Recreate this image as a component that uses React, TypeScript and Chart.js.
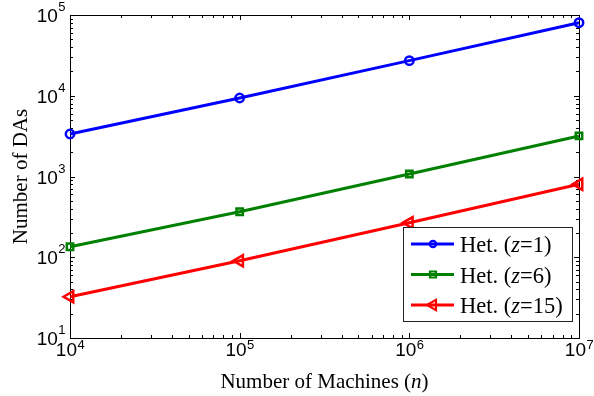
import React, { useEffect, useRef } from "react";
import { Chart, registerables } from "chart.js";

Chart.register(...registerables);

// Number of machines (x) and number of DAs per heterogeneity level (y)
const machines = [1e4, 1e5, 1e6, 1e7];
const dasZ1 = [3360, 9380, 27200, 80300];
const dasZ6 = [135, 366, 1075, 3180];
const dasZ15 = [32.4, 90.6, 268, 800];

const seriesLabels = ["Het. (z=1)", "Het. (z=6)", "Het. (z=15)"];
const seriesColors = ["#0000ff", "#008000", "#ff0000"];

// Decade exponents shown as 10^k tick labels
const xTickExponents = [4, 5, 6, 7];
const yTickExponents = [1, 2, 3, 4, 5];

const xTitleParts = ["Number of Machines (", "n", ")"];
const yTitle = "Number of DAs";

const SANS = "'Liberation Sans', Arial, sans-serif";
const SERIF = "'Liberation Serif', 'Times New Roman', serif";

function drawMarker(ctx: CanvasRenderingContext2D, style: string, x: number, y: number, r: number) {
  ctx.beginPath();
  if (style === "circle") {
    ctx.arc(x, y, r, 0, Math.PI * 2);
  } else if (style === "rect") {
    ctx.rect(x - r, y - r, 2 * r, 2 * r);
  } else {
    ctx.moveTo(x - r, y);
    ctx.lineTo(x + r * 0.5, y - r * 0.866);
    ctx.lineTo(x + r * 0.5, y + r * 0.866);
    ctx.closePath();
  }
  ctx.stroke();
}

// Boxed axes with inward major/minor ticks and 10^k labels
const boxAxesPlugin = {
  id: "boxAxes",
  beforeDatasetsDraw(chart: any) {
    const { ctx, chartArea, scales } = chart;
    const { left, right, top, bottom } = chartArea;
    const xs = scales.x;
    const ys = scales.y;
    ctx.save();
    ctx.strokeStyle = "#000";
    ctx.lineWidth = 1;
    ctx.strokeRect(Math.round(left) + 0.5, Math.round(top) + 0.5, Math.round(right - left), Math.round(bottom - top));

    const drawTicks = (scale: any, lo: number, hi: number, horizontal: boolean) => {
      for (let e = lo; e <= hi; e++) {
        for (let m = 1; m <= 9; m++) {
          if (e === hi && m > 1) break;
          const v = m * Math.pow(10, e);
          const p = Math.round(scale.getPixelForValue(v)) + 0.5;
          const len = m === 1 ? 5 : 3;
          ctx.beginPath();
          if (horizontal) {
            ctx.moveTo(p, bottom);
            ctx.lineTo(p, bottom - len);
            ctx.moveTo(p, top);
            ctx.lineTo(p, top + len);
          } else {
            ctx.moveTo(left, p);
            ctx.lineTo(left + len, p);
            ctx.moveTo(right, p);
            ctx.lineTo(right - len, p);
          }
          ctx.stroke();
        }
      }
    };
    drawTicks(xs, xTickExponents[0], xTickExponents[xTickExponents.length - 1], true);
    drawTicks(ys, yTickExponents[0], yTickExponents[yTickExponents.length - 1], false);

    // tick labels
    ctx.fillStyle = "#000";
    ctx.textAlign = "left";
    ctx.textBaseline = "alphabetic";
    const baseFont = `19px ${SANS}`;
    const expFont = `13px ${SANS}`;
    const measure = (exp: number) => {
      ctx.font = baseFont;
      const wb = ctx.measureText("10").width;
      ctx.font = expFont;
      const we = ctx.measureText(String(exp)).width;
      return { wb, we };
    };
    xTickExponents.forEach((k) => {
      const px = xs.getPixelForValue(Math.pow(10, k));
      const { wb, we } = measure(k);
      const start = px - (wb + we) / 2;
      ctx.font = baseFont;
      ctx.fillText("10", start, bottom + 18);
      ctx.font = expFont;
      ctx.fillText(String(k), start + wb + 0.5, bottom + 11);
    });
    yTickExponents.forEach((k) => {
      const py = ys.getPixelForValue(Math.pow(10, k));
      const { wb, we } = measure(k);
      const start = left - 5 - (wb + we);
      ctx.font = baseFont;
      ctx.fillText("10", start, py + 7);
      ctx.font = expFont;
      ctx.fillText(String(k), start + wb + 0.5, py - 4);
    });

    // axis titles
    const normal = `21px ${SERIF}`;
    const italic = `italic 21px ${SERIF}`;
    const widths = xTitleParts.map((t, i) => {
      ctx.font = i === 1 ? italic : normal;
      return ctx.measureText(t).width;
    });
    const total = widths.reduce((a, b) => a + b, 0);
    let cx = (left + right) / 2 - total / 2;
    xTitleParts.forEach((t, i) => {
      ctx.font = i === 1 ? italic : normal;
      ctx.fillText(t, cx, bottom + 50);
      cx += widths[i];
    });

    ctx.save();
    ctx.translate(27, (top + bottom) / 2);
    ctx.rotate(-Math.PI / 2);
    ctx.font = normal;
    ctx.textAlign = "center";
    ctx.fillText(yTitle, 0, 0);
    ctx.restore();

    ctx.restore();
  },
  afterDatasetsDraw(chart: any) {
    const { ctx } = chart;
    const bx = 403, by = 227, bw = 169, bh = 94;
    ctx.save();
    ctx.fillStyle = "#fff";
    ctx.fillRect(bx, by, bw, bh);
    ctx.strokeStyle = "#222";
    ctx.lineWidth = 1;
    ctx.strokeRect(bx + 0.5, by + 0.5, bw, bh);
    chart.data.datasets.forEach((ds: any, i: number) => {
      const y = by + 17 + i * 30.5;
      ctx.strokeStyle = ds.borderColor;
      ctx.lineWidth = 3;
      ctx.beginPath();
      ctx.moveTo(bx + 8, y);
      ctx.lineTo(bx + 51, y);
      ctx.stroke();
      ctx.lineWidth = 2.2;
      const r = ds.pointStyle === "circle" ? 3.2 : ds.pointStyle === "rect" ? 3 : 6;
      drawMarker(ctx, ds.pointStyle, bx + 30, y, r);
      // label with italic z
      const [pre, post] = String(ds.label).split("z");
      let tx = bx + 57;
      ctx.fillStyle = "#000";
      ctx.textBaseline = "alphabetic";
      ctx.textAlign = "left";
      const normal = `22.5px ${SERIF}`;
      const ital = `italic 22.5px ${SERIF}`;
      ctx.font = normal;
      ctx.fillText(pre, tx, y + 8);
      tx += ctx.measureText(pre).width;
      ctx.font = ital;
      ctx.fillText("z", tx, y + 8);
      tx += ctx.measureText("z").width;
      ctx.font = normal;
      ctx.fillText(post, tx, y + 8);
    });
    ctx.restore();
  },
};

const seriesValues = [dasZ1, dasZ6, dasZ15];
const seriesMarkers = ["circle", "rect", "triangle"];
const markerRadius = [4.2, 4.5, 6.5];

export default function App() {
  const canvasRef = useRef<HTMLCanvasElement | null>(null);

  useEffect(() => {
    if (!canvasRef.current) return;
    const chart = new Chart(canvasRef.current, {
      type: "line",
      data: {
        datasets: seriesValues.map((vals, i) => ({
          label: seriesLabels[i],
          data: machines.map((m, j) => ({ x: m, y: vals[j] })),
          borderColor: seriesColors[i],
          backgroundColor: "transparent",
          borderWidth: 3,
          pointStyle: seriesMarkers[i] as any,
          pointRadius: markerRadius[i],
          pointRotation: seriesMarkers[i] === "triangle" ? -90 : 0,
          pointBorderWidth: 2.5,
          pointBorderColor: seriesColors[i],
          pointBackgroundColor: "transparent",
          tension: 0,
          clip: false as any,
        })),
      },
      options: {
        responsive: false,
        animation: false,
        layout: { padding: { left: 70, right: 15, top: 15, bottom: 58 } },
        plugins: { legend: { display: false }, tooltip: { enabled: false } },
        scales: {
          x: { type: "logarithmic", min: 1e4, max: 1e7, display: false },
          y: { type: "logarithmic", min: 10, max: 1e5, display: false },
        },
      },
      plugins: [boxAxesPlugin],
    });
    return () => chart.destroy();
  }, []);

  return (
    <div style={{ position: "fixed", left: 0, top: 0, width: 594, height: 396, background: "#fff" }}>
      <canvas ref={canvasRef} width={594} height={396} />
    </div>
  );
}
